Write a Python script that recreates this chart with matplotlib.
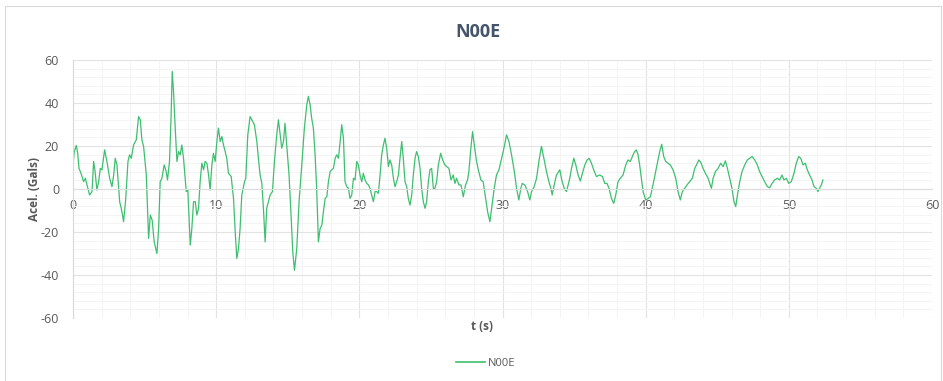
import matplotlib.pyplot as plt
from matplotlib.ticker import MultipleLocator
from matplotlib.lines import Line2D

plt.rcParams['axes.unicode_minus'] = False

# values (time in s, acceleration in Gals)
t = [0.0, 0.09, 0.23, 0.33, 0.42, 0.56, 0.74, 0.86, 0.98, 1.16, 1.33, 1.44, 1.53, 1.67,
     1.79, 1.91, 2.02, 2.21, 2.37, 2.56, 2.72, 2.84, 2.95, 3.07, 3.26, 3.42, 3.53, 3.67,
     3.84, 3.95, 4.07, 4.23, 4.42, 4.58, 4.70, 4.81, 4.93, 5.12, 5.28, 5.40, 5.53, 5.67,
     5.86, 5.98, 6.09, 6.21, 6.37, 6.51, 6.60, 6.74, 6.84, 6.93, 7.02, 7.14, 7.26, 7.37,
     7.49, 7.60, 7.72, 7.91, 8.02, 8.19, 8.30, 8.42,
     8.54, 8.65, 8.77, 8.88, 9.0, 9.12, 9.23, 9.35, 9.47, 9.58, 9.70, 9.81, 9.93, 10.05,
     10.16, 10.28, 10.40, 10.51, 10.63, 10.74, 10.86, 11.05, 11.21, 11.33, 11.44, 11.56,
     11.67, 11.79, 11.98, 12.07, 12.21, 12.37, 12.49, 12.67, 12.84, 12.95, 13.07, 13.19,
     13.30, 13.42, 13.53, 13.65, 13.77, 13.93, 14.07, 14.23, 14.35, 14.47, 14.58, 14.70,
     14.81, 14.93, 15.09, 15.23, 15.35, 15.47, 15.63, 15.79, 15.98, 16.16, 16.33, 16.44,
     16.56, 16.67, 16.79, 16.91, 17.02, 17.14,
     17.26, 17.38, 17.49, 17.61, 17.73, 17.84, 17.96, 18.07, 18.19, 18.31, 18.42, 18.54,
     18.66, 18.77, 18.89, 19.0, 19.12, 19.24, 19.35, 19.47, 19.59, 19.70, 19.82, 19.93,
     20.05, 20.17, 20.28, 20.40, 20.52, 20.63, 20.75, 20.86, 20.98, 21.10, 21.21, 21.33,
     21.45, 21.56, 21.68, 21.79, 21.91, 22.03, 22.14, 22.26, 22.38, 22.49, 22.61, 22.73,
     22.84, 22.96, 23.07, 23.19, 23.31, 23.42, 23.54, 23.66, 23.77, 23.89, 24.0, 24.12,
     24.24, 24.35, 24.47, 24.59, 24.70, 24.82, 24.93, 25.05, 25.17, 25.28, 25.40, 25.52,
     25.68, 25.82,
     25.98, 26.10, 26.26, 26.40, 26.56, 26.68, 26.79, 26.96, 27.10, 27.26, 27.42, 27.56,
     27.65, 27.79, 27.91, 28.03, 28.19, 28.31, 28.49, 28.65, 28.82, 28.96, 29.12, 29.24,
     29.42, 29.58, 29.75, 29.89, 30.05, 30.17, 30.28, 30.45, 30.63, 30.75, 30.86, 30.98,
     31.14, 31.28, 31.38, 31.56, 31.75, 31.91, 32.03, 32.21, 32.38, 32.54, 32.72, 32.89,
     33.07, 33.24, 33.38, 33.47, 33.61, 33.77, 34.0, 34.17, 34.31, 34.47,
     34.70, 34.82, 34.98, 35.12, 35.28, 35.44, 35.58, 35.75, 35.91, 36.05, 36.21, 36.37,
     36.56, 36.79, 36.98, 37.14, 37.30, 37.44, 37.61, 37.77, 37.91, 38.07, 38.23, 38.42,
     38.61, 38.77, 38.93, 39.12, 39.23, 39.35, 39.47, 39.58, 39.70, 39.82, 40.0, 40.17,
     40.33, 40.51, 40.70, 40.86, 40.98, 41.12, 41.26, 41.40, 41.56, 41.72, 41.91, 42.10,
     42.26, 42.42, 42.56, 42.72, 42.89, 43.07, 43.26,
     43.43, 43.55, 43.71, 43.85, 44.01, 44.17, 44.36, 44.48, 44.59, 44.71, 44.87, 45.06,
     45.24, 45.41, 45.57, 45.71, 45.87, 46.03, 46.17, 46.29, 46.41, 46.57, 46.73, 46.92,
     47.10, 47.27, 47.43, 47.62, 47.80, 47.96, 48.13, 48.31, 48.50, 48.66, 48.83, 49.01,
     49.20, 49.36, 49.52, 49.66, 49.83, 49.99, 50.17, 50.36, 50.52, 50.69, 50.83, 50.99,
     51.15, 51.29, 51.45, 51.62, 51.76, 51.92, 52.03, 52.15, 52.27, 52.38]

acel = [11.2, 17.4, 20.2, 16.6, 9.6, 7.3, 3.4, 5.0, 1.9, -2.8, -1.2, 12.8, 8.9, -0.5,
        3.4, 9.6, 8.9, 18.2, 12.8, 5.0, 1.1, 6.5, 14.3, 11.2, -5.9, -10.6, -15.2, -5.9,
        12.8, 15.9, 14.3, 20.5, 22.9, 33.7, 32.2, 22.9, 19.8, 6.5, -23.0, -12.1, -14.5, -24.6,
        -30.0, -18.4, 3.4, 5.0, 11.2, 8.1, 4.2, 12.8, 31.4, 54.7, 45.4, 28.3, 12.8, 17.4,
        15.9, 20.5, 14.3, -1.2, -0.5, -26.1, -18.4, -5.9,
        -5.9, -12.1, -9.0, 3.4, 12.0, 8.9, 12.8, 12.0, 6.5, -0.5, 11.2, 16.6, 12.8, 22.1,
        28.3, 22.1, 24.4, 20.5, 17.4, 14.3, 7.3, 5.8, -4.4, -19.9, -32.3, -27.7,
        -18.4, -2.8, 3.4, 5.0, 25.2, 33.7, 32.2, 29.9, 22.1, 14.3, 6.5, 2.6,
        -9.0, -24.6, -9.0, -5.9, -2.8, -1.2, 12.8, 25.2, 32.2, 25.2, 19.0, 22.1,
        30.6, 20.5, 6.5, -12.1, -29.2, -37.8, -27.7, -5.9, 11.2, 28.3, 39.2, 43.1,
        39.2, 33.0, 28.3, 15.9, 0.3, -24.6,
        -18.4, -16.8, -10.6, -4.4, -3.6, 3.4, 8.1, 8.9, 9.6, 14.3, 15.9, 14.3,
        22.1, 29.9, 23.6, 3.4, 1.1, 0.3, -4.4, -2.8, 5.0, 4.2, 12.8, 11.2,
        6.5, 3.4, 7.3, 4.2, 2.6, 1.9, 0.3, -2.8, -5.9, -1.2, -1.2, -2.0,
        6.5, 15.9, 20.5, 23.6, 19.0, 10.4, 13.5, 11.2, 5.0, 1.1, 3.4, 6.5,
        14.3, 22.1, 14.3, 3.4, 1.1, -4.4, -7.5, -2.8, 6.5, 14.3, 17.4, 15.1,
        9.6, 0.3, -5.9, -9.0, -5.9, 3.4, 8.9, 9.6, 0.3, 0.3, 3.4, 11.2,
        16.6, 13.5,
        11.2, 10.4, 9.6, 4.2, 6.5, 2.6, 5.0, 1.9, 1.9, -3.6, 1.9, 4.2,
        8.1, 19.0, 26.7, 20.5, 12.8, 8.9, 4.2, 3.4, -4.4, -10.6, -15.2, -9.0,
        0.3, 6.5, 8.9, 12.8, 17.4, 21.3, 25.2, 22.1, 15.9, 11.2, 6.5, 0.3,
        -5.1, 0.3, 2.6, 1.9, -1.2, -5.1, -1.2, 1.1, 5.0, 12.8, 19.8, 14.3,
        8.1, 3.4, 0.3, -2.8, 1.9, 6.5, 8.9, 3.4, 0.3, -1.2,
        5.0, 9.6, 14.3, 11.2, 6.5, 3.7, 7.3, 11.2, 13.5, 14.3, 12.0, 8.9,
        5.8, 6.5, 5.8, 2.6, 2.6, 0.3, -4.4, -6.7, -2.8, 3.4, 5.0, 6.5,
        11.2, 13.5, 12.8, 15.9, 17.4, 18.2, 15.9, 11.2, 5.0, -1.2, -5.1, -4.4,
        -3.6, 1.9, 8.1, 13.5, 17.4, 20.8, 15.1, 12.8, 12.0, 11.2, 8.9, 5.0,
        -1.2, -5.1, -1.2, 0.3, 1.9, 3.4, 5.0,
        9.6, 11.2, 13.5, 12.4, 9.6, 7.3, 5.0, 2.6, 0.3, 5.0, 8.1, 9.6,
        12.0, 10.4, 13.1, 9.6, 5.0, 0.3, -5.9, -8.2, -2.8, 3.4, 8.1, 11.2,
        13.5, 14.3, 15.1, 13.5, 11.2, 8.1, 5.8, 3.4, 1.1, 0.6, 2.6, 4.2,
        5.0, 4.2, 6.5, 4.2, 5.0, 2.6, 3.4, 7.3, 12.0, 15.1, 14.3, 11.2,
        12.0, 8.9, 6.5, 4.2, 1.1, 0.3, -1.2, 0.3, 1.9, 4.2]

line_color = '#3dbf6f'
text_color = '#595959'
title_color = '#44546a'

fig = plt.figure(figsize=(9.43, 3.81), dpi=100)
ax = fig.add_axes([73/943, 1 - 318/381, (932 - 73)/943, (318 - 60)/381])

ax.plot(t, acel, color=line_color, linewidth=0.9, label='N00E')

ax.set_xlim(0, 60)
ax.set_ylim(-60, 60)
ax.xaxis.set_major_locator(MultipleLocator(10))
ax.xaxis.set_minor_locator(MultipleLocator(2))
ax.yaxis.set_major_locator(MultipleLocator(20))
ax.yaxis.set_minor_locator(MultipleLocator(4))

ax.grid(True, which='major', color='#e3e3e3', linewidth=0.8)
ax.grid(True, which='minor', color='#f4f4f4', linewidth=0.7)
ax.set_axisbelow(True)

for s in ['top', 'right']:
    ax.spines[s].set_visible(False)
ax.spines['left'].set_color('#d9d9d9')
ax.spines['bottom'].set_position(('data', 0))
ax.spines['bottom'].set_color('#dcdcdc')

ax.tick_params(which='both', length=0)
ax.tick_params(axis='y', pad=10, labelsize=9, labelcolor=text_color)
ax.tick_params(axis='x', pad=7, labelsize=9, labelcolor=text_color)
for lab in ax.get_xticklabels() + ax.get_yticklabels():
    lab.set_fontfamily('Open Sans')

fig.text(478/943, 1 - 32/381, 'N00E', ha='center', va='center', fontsize=13,
         fontweight='bold', color=title_color, family='Open Sans')
fig.text(482/943, 1 - 327/381, 't (s)', ha='center', va='center', fontsize=8.5,
         fontweight='bold', color=text_color, family='Open Sans')
fig.text(35/943, 1 - 189/381, 'Acel. (Gals)', ha='center', va='center', fontsize=8.5,
         fontweight='bold', color=text_color, rotation=90, family='Open Sans')

handle = Line2D([0], [0], color=line_color, linewidth=1.2)
leg = fig.legend([handle], ['N00E'], loc='center', bbox_to_anchor=(486/943, 1 - 363/381),
                 frameon=False, fontsize=8, handlelength=2.6, handletextpad=0.3)
for txt in leg.get_texts():
    txt.set_color(text_color)
    txt.set_fontfamily('Open Sans')

# outer chart border
border = plt.Rectangle((5/943, -0.01), 936/943, 1 - 6/381 + 0.01, transform=fig.transFigure,
                       fill=False, edgecolor='#d9d9d9', linewidth=0.8)
fig.patches.append(border)

fig.savefig('out.png', dpi=100)
